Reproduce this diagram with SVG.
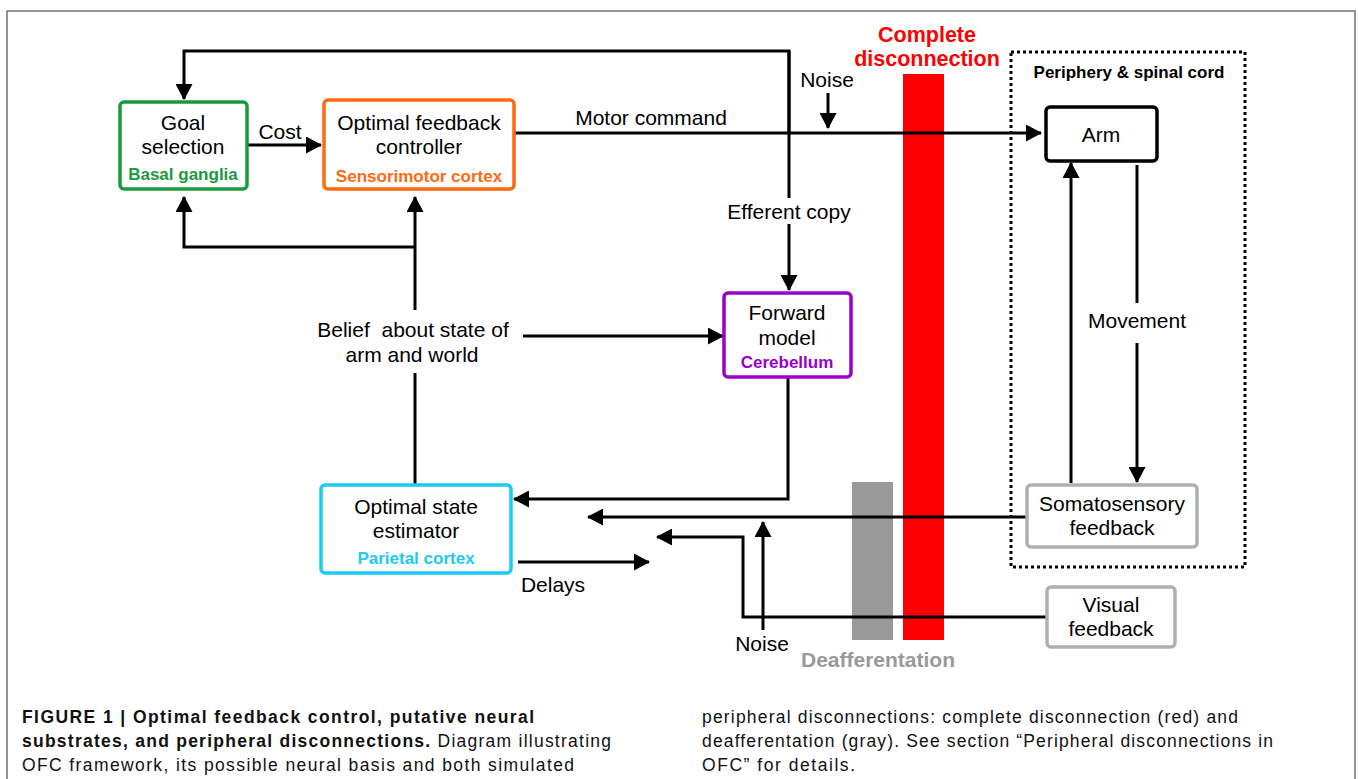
<svg xmlns="http://www.w3.org/2000/svg" width="1358" height="779" viewBox="0 0 1358 779">
<style>
text{font-family:"Liberation Sans",Arial,sans-serif;}
.t{font-size:21px;fill:#000;text-anchor:middle;}
.sub{font-size:17px;font-weight:bold;text-anchor:middle;}
.ln{fill:none;stroke:#000;stroke-width:3;}
.box{fill:#fff;stroke-width:3.5;}
.cap{font-size:17.5px;fill:#111;}
.b{font-weight:bold;}
</style>
<defs>
<marker id="ah" markerWidth="16" markerHeight="17" refX="15" refY="8.5" orient="auto" markerUnits="userSpaceOnUse">
<path d="M0,0 L16,8.5 L0,17 Z" fill="#000"/>
</marker>
</defs>
<rect x="0" y="0" width="1358" height="779" fill="#fff"/>
<rect x="7" y="11" width="1348" height="790" fill="none" stroke="#707070" stroke-width="1.5"/>

<!-- bars -->
<g id="complete-disconnection">
<rect x="903" y="74" width="41" height="566" fill="#ff0000"/>
<text x="927" y="42" font-size="21.5" font-weight="bold" fill="#ff0000" text-anchor="middle">Complete</text>
<text x="927" y="66" font-size="21.5" font-weight="bold" fill="#ff0000" text-anchor="middle">disconnection</text>
</g>
<g id="deafferentation">
<rect x="852" y="482" width="41" height="158" fill="#999999"/>
<text x="878" y="667" font-size="21" font-weight="bold" fill="#999999" text-anchor="middle">Deafferentation</text>
</g>

<!-- connectors -->
<g id="connectors">
<path class="ln" d="M789,133 V51 H184 V99" marker-end="url(#ah)"/>
<path class="ln" d="M789,51 V198"/>
<path class="ln" d="M789,224 V290" marker-end="url(#ah)"/>
<path class="ln" d="M247,145 H321" marker-end="url(#ah)"/>
<path class="ln" d="M514,133 H1041" marker-end="url(#ah)"/>
<path class="ln" d="M828,93 V128" marker-end="url(#ah)"/>
<path class="ln" d="M415,310 V197" marker-end="url(#ah)"/>
<path class="ln" d="M415,247 H184 V197" marker-end="url(#ah)"/>
<path class="ln" d="M415,484 V373"/>
<path class="ln" d="M523,336 H723" marker-end="url(#ah)"/>
<path class="ln" d="M788,378 V499 H514" marker-end="url(#ah)"/>
<path class="ln" d="M1027,517 H588" marker-end="url(#ah)"/>
<path class="ln" d="M1047,617 H743 V537 H657" marker-end="url(#ah)"/>
<path class="ln" d="M763,630 V522" marker-end="url(#ah)"/>
<path class="ln" d="M518,562 H649" marker-end="url(#ah)"/>
<path class="ln" d="M1071,483 V163" marker-end="url(#ah)"/>
<path class="ln" d="M1137,165 V303"/>
<path class="ln" d="M1137,343 V482" marker-end="url(#ah)"/>
</g>

<!-- labels -->
<g id="labels">
<text class="t" x="280" y="139">Cost</text>
<text class="t" x="651" y="125">Motor command</text>
<text class="t" x="827" y="87">Noise</text>
<text class="t" x="789" y="219">Efferent copy</text>
<text class="t" x="413" y="337" xml:space="preserve">Belief  about state of</text>
<text class="t" x="412" y="362">arm and world</text>
<text class="t" x="553" y="592">Delays</text>
<text class="t" x="762" y="651">Noise</text>
<text class="t" x="1137" y="328">Movement</text>
</g>

<!-- periphery -->
<g id="periphery">
<rect x="1011" y="52" width="234" height="515" fill="none" stroke="#000" stroke-width="3" stroke-dasharray="3,3"/>
<text x="1129" y="78" font-size="17" font-weight="bold" text-anchor="middle">Periphery &amp; spinal cord</text>
</g>

<g id="goal-selection">
<rect class="box" x="120" y="102" width="127" height="87" rx="4" stroke="#1a9a3e"/>
<text class="t" x="183" y="130">Goal</text>
<text class="t" x="183" y="154">selection</text>
<text class="sub" x="183" y="180" fill="#1a9a3e">Basal ganglia</text>
</g>

<g id="optimal-feedback-controller">
<rect class="box" x="324" y="100" width="190" height="89" rx="4" stroke="#ff6a10"/>
<text class="t" x="419" y="130">Optimal feedback</text>
<text class="t" x="419" y="154">controller</text>
<text class="sub" x="419" y="182" fill="#ff6a10">Sensorimotor cortex</text>
</g>

<g id="forward-model">
<rect class="box" x="724" y="293" width="127" height="84" rx="4" stroke="#9a00cc"/>
<text class="t" x="787" y="320">Forward</text>
<text class="t" x="787" y="345">model</text>
<text class="sub" x="787" y="368" fill="#9a00cc">Cerebellum</text>
</g>

<g id="optimal-state-estimator">
<rect class="box" x="321" y="485" width="190" height="88" rx="4" stroke="#1ccaf2"/>
<text class="t" x="416" y="514">Optimal state</text>
<text class="t" x="416" y="538">estimator</text>
<text class="sub" x="416" y="564" fill="#1ccaf2">Parietal cortex</text>
</g>

<g id="arm">
<rect class="box" x="1046" y="107" width="111" height="54" rx="4" stroke="#000" stroke-width="4"/>
<text class="t" x="1101" y="142">Arm</text>
</g>

<g id="somatosensory-feedback">
<rect class="box" x="1027" y="485" width="170" height="62" rx="4" stroke="#b0b0b0"/>
<text class="t" x="1112" y="511">Somatosensory</text>
<text class="t" x="1112" y="535">feedback</text>
</g>

<g id="visual-feedback">
<rect class="box" x="1047" y="587" width="128" height="60" rx="4" stroke="#b0b0b0"/>
<text class="t" x="1111" y="612">Visual</text>
<text class="t" x="1111" y="636">feedback</text>
</g>

<!-- caption -->
<g id="caption">
<text class="cap b" x="22" y="723" textLength="512" lengthAdjust="spacing">FIGURE 1 | Optimal feedback control, putative neural</text>
<text class="cap" x="22" y="747" textLength="589" lengthAdjust="spacing"><tspan class="b">substrates, and peripheral disconnections.</tspan> Diagram illustrating</text>
<text class="cap" x="22" y="771" textLength="552" lengthAdjust="spacing">OFC framework, its possible neural basis and both simulated</text>
<text class="cap" x="702" y="723" textLength="536" lengthAdjust="spacing">peripheral disconnections: complete disconnection (red) and</text>
<text class="cap" x="702" y="747" textLength="571" lengthAdjust="spacing">deafferentation (gray). See section “Peripheral disconnections in</text>
<text class="cap" x="702" y="771" textLength="153" lengthAdjust="spacing">OFC” for details.</text>
</g>
</svg>
